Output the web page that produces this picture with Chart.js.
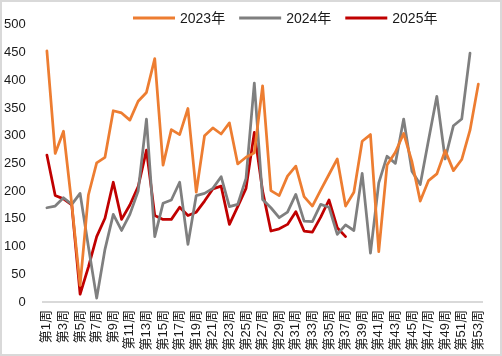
<!DOCTYPE html>
<html><head><meta charset="utf-8">
<script src="https://cdn.jsdelivr.net/npm/chart.js@4/dist/chart.umd.min.js"></script>
<style>html,body{margin:0;padding:0;background:#fff}#wrap{width:502px;height:356px;position:relative}canvas{display:block}</style>
</head><body><div id="wrap"><canvas id="c" width="502" height="356"></canvas></div>
<script>
const weeks = ["第1周","第2周","第3周","第4周","第5周","第6周","第7周","第8周","第9周","第10周",
"第11周","第12周","第13周","第14周","第15周","第16周","第17周","第18周","第19周","第20周",
"第21周","第22周","第23周","第24周","第25周","第26周","第27周","第28周","第29周","第30周",
"第31周","第32周","第33周","第34周","第35周","第36周","第37周","第38周","第39周","第40周",
"第41周","第42周","第43周","第44周","第45周","第46周","第47周","第48周","第49周","第50周",
"第51周","第52周","第53周"];
const seriesNames = ["2023年","2024年","2025年"];
const y2023 = [453,268,308,176,30,193,251,261,345,341,328,362,378,439,247,311,302,349,198,300,
314,303,323,249,261,269,390,201,192,227,245,190,173,202,230,258,173,198,290,302,
91,247,270,304,253,182,219,231,273,237,257,310,393];
const y2024 = [170,173,188,176,196,100,7,95,158,129,158,200,330,118,178,184,216,104,192,196,
205,226,172,176,223,395,185,170,152,162,194,146,145,176,171,122,139,129,232,88,
215,263,250,330,236,212,292,371,258,318,330,449,null];
const y2025 = [265,192,186,175,14,63,118,151,216,149,175,208,274,156,149,149,171,156,162,182,
204,209,140,172,205,306,200,128,132,140,163,128,126,153,184,134,118];
const yTicks = [0,50,100,150,200,250,300,350,400,450,500];
const colors = ["#ED7D31","#7F7F7F","#C00000"];

const FONT = "'Liberation Sans','Noto Sans CJK SC',sans-serif";

const frameAndLegend = {
  id: 'frameAndLegend',
  beforeDraw(chart) {
    const ctx = chart.ctx;
    ctx.save();
    ctx.fillStyle = '#fff';
    ctx.fillRect(0, 0, chart.width, chart.height);
    ctx.restore();
  },
  afterDraw(chart) {
    const ctx = chart.ctx;
    ctx.save();
    ctx.strokeStyle = '#D9D9D9';
    ctx.lineWidth = 2;
    ctx.strokeRect(1, 1, chart.width - 2, chart.height - 2);
    // legend
    ctx.font = '14px ' + FONT;
    ctx.textBaseline = 'middle';
    let x = 133;
    const y = 18;
    chart.data.datasets.forEach(ds => {
      ctx.strokeStyle = ds.borderColor;
      ctx.lineWidth = 3;
      ctx.beginPath();
      ctx.moveTo(x, y);
      ctx.lineTo(x + 42, y);
      ctx.stroke();
      x += 47;
      ctx.fillStyle = '#1a1a1a';
      ctx.fillText(ds.label, x, y + 1);
      x += ctx.measureText(ds.label).width + 14;
    });
    ctx.restore();
  }
};

new Chart(document.getElementById('c'), {
  type: 'line',
  data: {
    labels: weeks,
    datasets: [
      {label: seriesNames[0], data: y2023, borderColor: colors[0], backgroundColor: colors[0]},
      {label: seriesNames[1], data: y2024, borderColor: colors[1], backgroundColor: colors[1]},
      {label: seriesNames[2], data: y2025, borderColor: colors[2], backgroundColor: colors[2]}
    ]
  },
  options: {
    responsive: false,
    animation: false,
    devicePixelRatio: 1,
    layout: {padding: {top: 8, right: 8.75, bottom: 0, left: 0}},
    elements: {
      line: {borderWidth: 2.75, tension: 0, borderJoinStyle: 'round', borderCapStyle: 'round'},
      point: {radius: 0, hoverRadius: 0}
    },
    plugins: {legend: {display: false}, tooltip: {enabled: false}},
    scales: {
      x: {
        offset: true,
        grid: {display: false, drawTicks: false},
        border: {display: true, color: '#D9D9D9', width: 2},
        ticks: {
          autoSkip: false, maxRotation: 90, minRotation: 90, padding: 8,
          color: '#1a1a1a', font: {size: 13, family: FONT},
          callback: function(v, i) { return i % 2 === 0 ? this.getLabelForValue(v) : ''; }
        },
        afterFit: s => { s.height = 54; }
      },
      y: {
        min: 0, max: 500,
        grid: {display: false, drawTicks: false},
        border: {display: false},
        afterBuildTicks: s => { s.ticks = yTicks.map(v => ({value: v})); },
        ticks: {padding: 17, color: '#1a1a1a', font: {size: 13, family: FONT}},
        afterFit: s => { s.width = 42.75; }
      }
    }
  },
  plugins: [frameAndLegend]
});
</script></body></html>
